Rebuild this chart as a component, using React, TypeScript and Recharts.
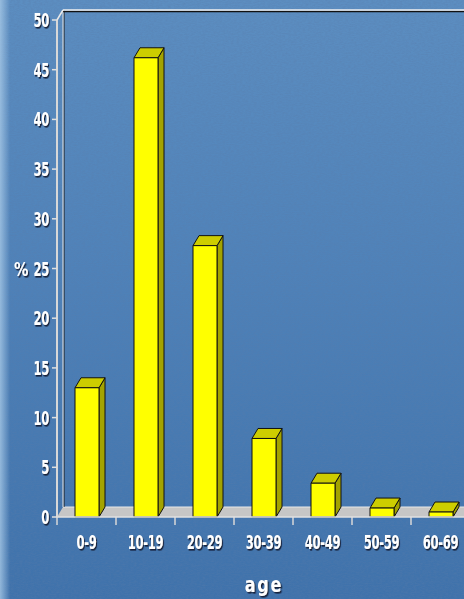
import { BarChart, Bar, XAxis, YAxis, ReferenceArea } from "recharts"

const ageGroups = ["0-9", "10-19", "20-29", "30-39", "40-49", "50-59", "60-69"]
const percentValues = [13, 46.2, 27.3, 7.9, 3.4, 0.9, 0.5]
const yTicks = [0, 5, 10, 15, 20, 25, 30, 35, 40, 45, 50]

const data = ageGroups.map((age, i) => ({ age, pct: percentValues[i] }))

const DX = 6
const DY = 10
const FONT = '"Liberation Sans Narrow", "Arial Narrow", "DejaVu Sans Condensed", sans-serif'

function Label3D({ x, y, text, anchor, size = 19, sx = 0.68, spacing = -0.5 }: any) {
  return (
    <g transform={`translate(${x},${y}) scale(${sx},1)`}>
      <text
        x={0}
        y={0}
        fill="#ffffff"
        fontFamily={FONT}
        fontWeight={700}
        fontSize={size}
        textAnchor={anchor}
        letterSpacing={spacing}
        filter="url(#txtShadow)"
      >
        {text}
      </text>
    </g>
  )
}

function YTick(props: any) {
  const { x, y, payload } = props
  return <Label3D x={x - 1} y={y + 7} text={String(payload.value)} anchor="end" />
}

function XTick(props: any) {
  const { x, y, payload } = props
  return <Label3D x={x} y={y + 24} text={payload.value} anchor="middle" />
}

function PctLabel(props: any) {
  const vb = props.viewBox || { x: 0, y: 0, width: 57, height: 497 }
  return <Label3D x={vb.x + 21} y={vb.y + vb.height / 2 + 7} text="%" anchor="middle" size={20} sx={0.8} />
}

function AgeLabel(props: any) {
  const vb = props.viewBox || { x: 57, y: 517, width: 413, height: 82 }
  return <Label3D x={264} y={vb.y + vb.height - 7} text="age" anchor="middle" size={21} sx={0.85} spacing={2} />
}

function Bar3D(props: any) {
  const { x, y, width, height } = props
  if (width == null || height == null) return null
  const r = x + width
  const b = y + height
  return (
    <g stroke="#111" strokeWidth={1} strokeLinejoin="round">
      <polygon points={`${r},${y} ${r + DX},${y - DY} ${r + DX},${b - DY} ${r},${b}`} fill="#a3a300" />
      <polygon points={`${x},${y} ${x + DX},${y - DY} ${r + DX},${y - DY} ${r},${y}`} fill="#cdcd00" />
      <rect x={x} y={y} width={width} height={height} fill="#ffff00" />
    </g>
  )
}

// back wall, floor and the category boundary ticks
function Frame(props: any) {
  const { x, y, width, height } = props
  const b = y + height
  const n = ageGroups.length
  const step = width / n
  return (
    <g>
      <polygon
        points={`${x},${b} ${x + DX},${b - DY} ${x + width + DX},${b - DY} ${x + width},${b}`}
        fill="#c6c6c6"
      />
      <line x1={x + DX} y1={b - DY} x2={x + width + DX} y2={b - DY} stroke="#e8e8e8" strokeWidth={1} />
      <line x1={x + DX + 1} y1={y - DY} x2={x + DX + 1} y2={b - DY} stroke="#1a1a1a" strokeWidth={1} />
      <line x1={x + DX} y1={y - DY} x2={x + DX} y2={b - DY} stroke="#e8e8e8" strokeWidth={1} />
      <line x1={x + DX} y1={y - DY + 1.5} x2={x + width + DX} y2={y - DY + 1.5} stroke="#111" strokeWidth={1.5} />
      <line x1={x + DX} y1={y - DY} x2={x + width + DX} y2={y - DY} stroke="#f0f0f0" strokeWidth={1.5} />
      <line x1={x} y1={y} x2={x + DX} y2={y - DY} stroke="#e8e8e8" strokeWidth={1.5} />
      {Array.from({ length: n + 1 }, (_, i) => (
        <line key={i} x1={x + i * step} y1={b} x2={x + i * step} y2={b + 8} stroke="#d8d8d8" strokeWidth={1.5} />
      ))}
    </g>
  )
}

export default function App() {
  return (
    <div
      style={{
        position: "absolute",
        left: 0,
        top: 0,
        width: 464,
        height: 599,
        overflow: "hidden",
        background: "linear-gradient(180deg, #5c8ec1 0%, #4f82b9 45%, #3f72ab 100%)",
      }}
    >
      <svg width={464} height={599} style={{ position: "absolute", left: 0, top: 0 }}>
        <defs>
          <filter id="grain">
            <feTurbulence type="fractalNoise" baseFrequency="0.35 0.9" numOctaves={3} seed={4} />
            <feColorMatrix
              type="matrix"
              values="0 0 0 0 0.1  0 0 0 0 0.2  0 0 0 0 0.4  0 0 0 -1.6 1.1"
            />
          </filter>
          <filter id="txtShadow" x="-20%" y="-20%" width="150%" height="150%">
            <feDropShadow dx={1.6} dy={1.6} stdDeviation={0.4} floodColor="#14233a" floodOpacity={1} />
          </filter>
          <linearGradient id="edge" x1="0" x2="1" y1="0" y2="0">
            <stop offset="0" stopColor="#a6c8e6" stopOpacity={0.8} />
            <stop offset="1" stopColor="#a6c8e6" stopOpacity={0} />
          </linearGradient>
        </defs>
        <rect x={0} y={0} width={464} height={599} filter="url(#grain)" opacity={0.4} />
        <rect x={0} y={0} width={10} height={599} fill="url(#edge)" />
      </svg>
      <div style={{ position: "absolute", left: 0, top: 0 }}>
        <BarChart width={480} height={599} data={data} margin={{ top: 20, right: 10, left: 0, bottom: 0 }} barSize={24}>
          <ReferenceArea y1={0} y2={50} shape={<Frame />} ifOverflow="visible" />
          <XAxis
            dataKey="age"
            height={82}
            tickLine={false}
            axisLine={{ stroke: "#e0e0e0", strokeWidth: 1.5 }}
            tick={<XTick />}
            interval={0}
            label={<AgeLabel />}
          />
          <YAxis
            width={57}
            domain={[0, 50]}
            ticks={yTicks}
            interval={0}
            tickSize={5}
            tickLine={{ stroke: "#e0e0e0", strokeWidth: 1.5 }}
            axisLine={{ stroke: "#d8d8d8", strokeWidth: 2 }}
            tick={<YTick />}
            label={<PctLabel />}
          />
          <Bar dataKey="pct" shape={<Bar3D />} isAnimationActive={false} />
        </BarChart>
      </div>
    </div>
  )
}
